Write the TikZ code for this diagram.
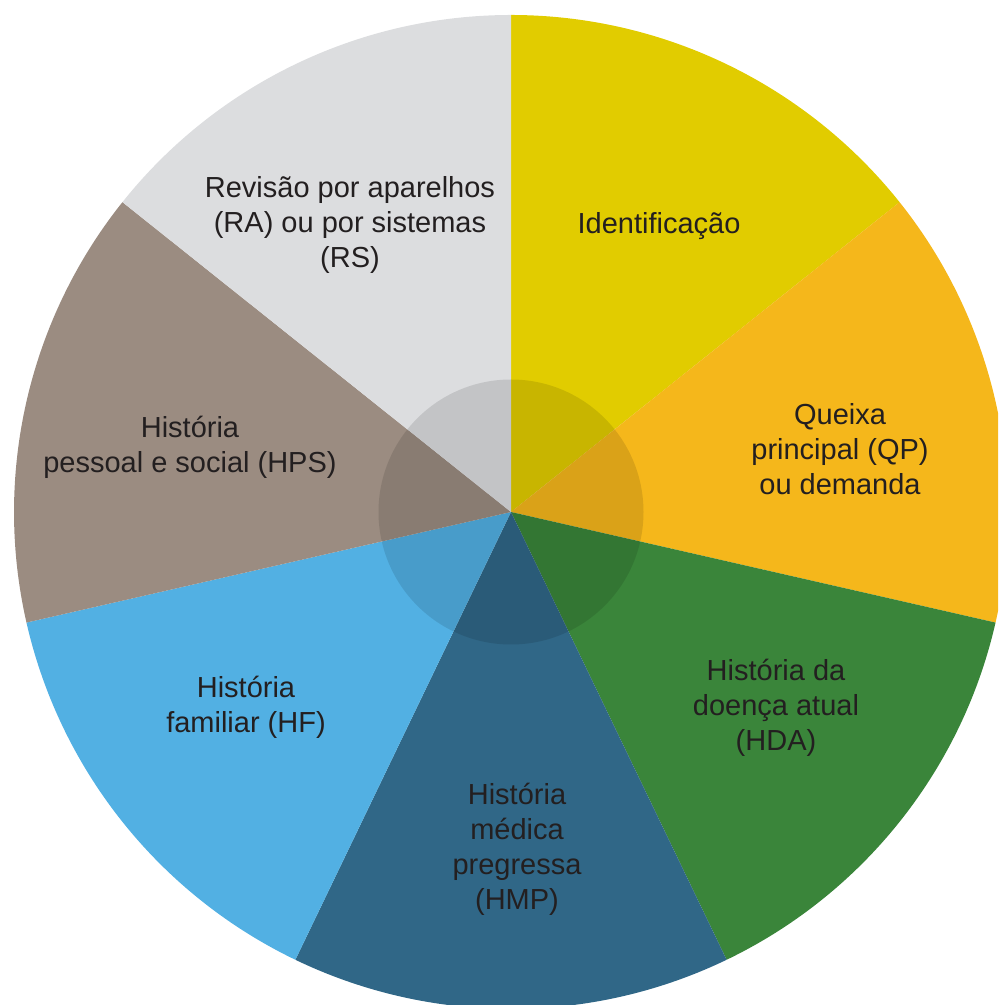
\documentclass[tikz,border=0pt]{standalone}
\usepackage{fontspec}
\setmainfont{Liberation Sans}
\usepackage{xcolor}
\usepackage{tikz}
\usetikzlibrary{positioning}
\definecolor{anink}{HTML}{231F20}
\definecolor{anyellow}{HTML}{E1CC00}
\definecolor{anorange}{HTML}{F5B71B}
\definecolor{angreen}{HTML}{3A853A}
\definecolor{annavy}{HTML}{306787}
\definecolor{ansky}{HTML}{52B0E3}
\definecolor{antaupe}{HTML}{9B8C81}
\definecolor{anpale}{HTML}{DCDDDF}

\begin{document}
\begin{tikzpicture}[
  slicetext/.style={align=center,inner sep=0pt,text=anink,
                    font=\fontsize{16.5}{19.9}\selectfont},
  hub/.style={fill=black,fill opacity=0.11}
]
\useasboundingbox (-10.22,-9.86) rectangle (9.74,10.24);
\clip (-10.22,-9.86) rectangle (9.74,10.24);
% seven equal slices, clockwise from the top
\foreach \k/\c in {0/anyellow,1/anorange,2/angreen,3/annavy,
                   4/ansky,5/antaupe,6/anpale} {
  \pgfmathsetmacro{\a}{90-\k*360/7}
  \pgfmathsetmacro{\b}{90-(\k+1)*360/7}
  \fill[\c] (0,0) -- (\a:9.94) arc[start angle=\a,end angle=\b,radius=9.94]
    -- cycle;
}
\fill[hub] (0,0) circle (2.65);
\node[slicetext] (ident) at (2.96,5.72) {Identificação};
\node[slicetext] (qp) at (6.58,1.26) {Queixa\\principal (QP)\\ou demanda};
\node[slicetext] (hda) at (5.30,-3.92) {História da\\doença atual\\(HDA)};
\node[slicetext] (hmp) at (0.12,-6.74) {História\\médica\\pregressa\\(HMP)};
\node[slicetext] (hf) at (-5.30,-3.90) {História\\familiar (HF)};
\node[slicetext] (hps) at (-6.42,1.30) {História\\pessoal e social (HPS)};
\node[slicetext] (ra) at (-3.22,5.74)
  {Revisão por aparelhos\\(RA) ou por sistemas\\(RS)};
\end{tikzpicture}
\end{document}
